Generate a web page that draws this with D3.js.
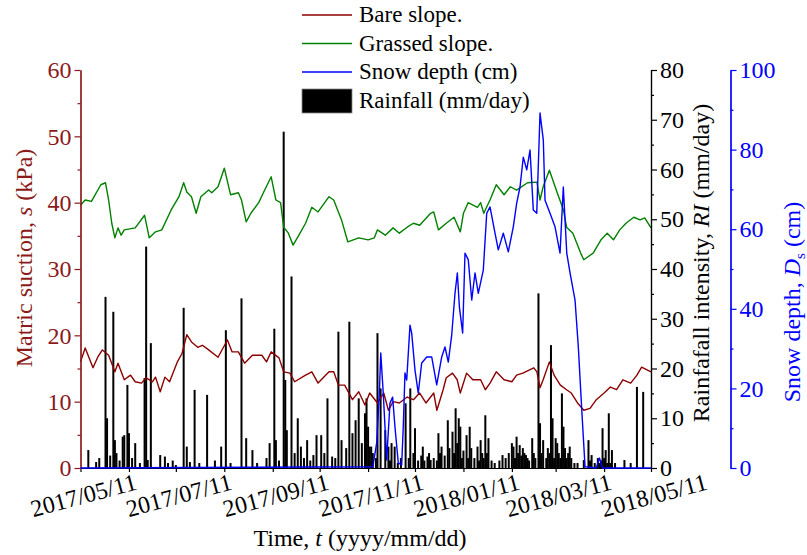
<!DOCTYPE html>
<html>
<head>
<meta charset="utf-8">
<script src="https://cdn.jsdelivr.net/npm/d3@7"></script>
<style>
  body { margin: 0; background: #fff; }
  svg { display: block; }
  text { font-family: "Liberation Serif", "Times New Roman", serif; }
</style>
</head>
<body>
<svg id="chart" width="807" height="555"></svg>
<script>
// Monitoring record, days counted from the start date
const startDate = "2017-05-11";

// Matric suction of the bare slope (kPa)
const bareDay = [0,3,8,11,14,18,22,24,28,32,35,39,42,46,48,51,54,57,62,65,68,71,75,78,82,88,94,97,101,105,110,116,119,122,127,130,134,137,144,148,152,159,162,165,169,174,178,182,185,190,194,197,200,204,209,213,217,221,226,228,232,234,238,241,243,247,251,256,259,262,266,271,276,279,283,290,292,294,296,300,303,307,311,314,318,322,326,330,335,339,343,347,352,356,359,365];
const bareSuction = [16.0,18.1,15.1,16.7,17.8,17.0,14.5,15.8,13.3,14.0,13.0,12.8,13.6,13.0,13.7,11.5,13.7,13.0,16.0,17.3,20.1,19.0,18.2,18.5,17.8,16.7,19.3,17.5,17.5,15.8,17.0,17.0,16.0,17.5,16.6,14.5,14.3,13.0,14.0,14.5,12.8,14.5,14.5,12.5,12.5,10.3,11.5,9.5,11.3,9.8,11.3,8.7,10.0,9.8,10.7,10.3,11.3,9.8,11.3,8.7,11.8,13.6,14.3,13.3,11.3,14.3,13.3,13.3,11.8,12.8,14.5,13.3,13.0,14.0,14.3,15.1,14.5,12.1,13.3,16.0,14.0,12.5,11.8,11.3,9.8,8.7,9.0,10.3,11.3,12.2,11.8,13.3,12.8,14.0,15.2,14.5];

// Matric suction of the grassed slope (kPa)
const grassDay = [0,3,7,13,16,18,20,22,24,26,28,35,41,44,48,52,58,63,66,68,71,74,77,82,84,88,92,96,101,103,106,109,114,117,122,125,128,130,133,136,139,144,148,152,159,162,167,171,178,184,188,190,195,200,204,209,213,217,224,226,229,234,239,243,245,248,254,256,258,262,266,271,275,279,286,292,294,296,300,305,309,311,315,320,322,328,333,337,341,345,349,354,358,361,365];
const grassSuction = [39.6,40.4,40.2,42.7,43.0,40.4,36.9,34.7,36.2,35.1,35.9,36.2,38.1,34.7,35.6,35.9,38.9,40.9,43.0,41.6,40.9,38.4,40.9,41.9,41.5,42.4,45.2,41.2,41.5,40.4,37.1,38.4,40.0,41.5,43.9,40.4,40.0,36.3,35.4,33.6,34.8,36.9,39.3,38.6,40.9,40.4,37.4,34.1,34.7,34.4,34.7,35.9,35.1,36.2,35.4,36.3,36.9,36.6,38.4,38.6,35.9,36.9,37.8,35.6,38.4,40.0,39.3,40.0,38.4,40.4,42.7,41.2,42.4,41.9,43.0,43.1,40.4,42.4,44.9,41.5,38.9,36.3,35.4,32.4,31.4,32.4,34.4,35.4,34.4,35.9,36.9,37.8,37.4,37.7,36.2];

// Snow depth (cm)
const snowDay = [0,187,189.5,191.2,192.1,193.7,195.9,198,199.7,201.2,203.3,205.5,206.5,207.6,208.7,210.8,211.9,214,216.1,218.3,221.5,224.7,227.9,231.1,233.2,235.3,237.5,239.6,241.1,242.4,244.5,246,248.1,250.3,252.4,254.5,257.7,259.9,262,265.2,267.3,270.5,273.7,276.9,279.1,281.2,283.3,285.5,287.6,289.7,291.9,294,296.1,297.2,300.4,303.6,306.8,308.9,311.1,313.2,316.4,318.5,320.7,322.8,330,332,334,365];
const snowDepth = [0,0.3,6.3,18.8,28.9,18.8,2,16.3,17.8,10.3,1.3,0.8,10.3,23.9,22.1,35.9,33.9,24.6,18.8,26.4,27.9,27.9,20.9,27.9,30.4,26.6,33.4,43.9,49,40.5,33.9,54,52.3,42.2,49,43.9,49.7,64,65.6,59,54.8,59,54.3,60.6,66.6,70.6,78.1,74.9,79.9,64.8,64,89.2,82.4,67.3,64,60.6,54,70.6,54,49,42.2,30.4,14.6,0.3,0,2.5,0,0];

// Daily rainfall (mm/day)
const rainDay = [5,10,12,16,17,19,21,22,23,25,27,28,30,31,33,35,38,41,42,43,45,51,54,56,59,61,66,68,70,73,76,81,86,90,93,96,103,106,110,113,119,121,124,125,127,130,131,132,135,137,139,141,143,145,147,149,151,154,156,158,161,163,165,167,170,172,174,176,178,180,182,183,184,185,186,187,189,190,192,195,197,198,199,201,203,205,208,210,211,213,214,216,218,219,220,222,223,224,226,228,229,230,231,233,235,236,238,239,240,241,242,243,244,245,247,248,249,250,252,254,255,256,257,258,259,260,261,263,265,268,270,272,274,276,277,278,279,280,281,282,283,284,285,286,287,289,290,291,293,294,295,296,298,299,300,301,302,303,304,305,306,307,308,309,310,311,312,313,314,316,318,322,325,326,327,329,331,332,333,334,335,336,337,338,339,340,342,348,352,356,360];
const rainfall = [3.6,1.2,2.0,34.4,10,2.5,31.4,5.6,3,1.5,6.3,6.6,16.7,7,2,5,1,18.1,44.5,1.6,25.1,2.6,2.3,1,1.5,0.6,32.2,4.3,1.2,15.7,1,14.7,1.5,4.3,27.7,1,34.1,6,3.6,1,2,5,28,5.6,1.5,67.6,17.7,7.6,38.5,3,10,4.3,2,5.6,1.5,2.6,6.6,6.6,3,14,2.3,2,27.4,5.6,4,29.4,7,9.6,14,5,11,14,8.3,4.3,4.3,3,2,27.1,16,7.6,4.3,1.5,5,4.3,1,2,13,2,16,3,8,1.5,2.5,4.3,1.5,2.3,3,1.6,2,1.5,7,3,4.3,2.5,9.6,4,7.3,3,12,5,10,8.3,2,3.5,6.6,2,8.3,4,2,4.3,1.5,5.6,3,2,10.6,3,6,1.5,1,1.5,2.6,2,3,5,4.3,2,6.3,3,4.6,2.5,4,3,2.6,2,1.5,6,3,2,35.1,9,3,5.6,2,4,3,24.7,10,2,6,5,3,2,15,8.3,4,2,3,4.3,2,1,1,1.6,5.6,1.5,2.6,1,2,1,1.5,8,2,3.6,1,11,1,3.6,1,1.6,1,16.3,15.3];

const dateLabelFormat = "%Y/%m/%d";
const leftTicks = [0, 10, 20, 30, 40, 50, 60];
const rainTicks = [0, 10, 20, 30, 40, 50, 60, 70, 80];
const snowTicks = [0, 20, 40, 60, 80, 100];

const legendLabels = ["Bare slope.", "Grassed slope.", "Snow depth (cm)", "Rainfall (mm/day)"];

// ---- layout ----
const svg = d3.select("#chart");
const plotL = 80.5, plotR = 651, plotT = 70, plotB = 468;
const snowAxisX = 730.5;
const suctionColor = "#8b1a1a";
const bareColor = "#8b0000";
const grassColor = "#008000";
const snowColor = "#0000ff";

const t0 = d3.timeParse("%Y-%m-%d")(startDate);
const dayToDate = d => new Date(t0.getTime() + d * 864e5);

const x = d3.scaleTime().domain([t0, d3.timeYear.offset(t0, 1)]).range([plotL, plotR]);
const yS = d3.scaleLinear().domain([0, 60]).range([plotB, plotT]);
const yR = d3.scaleLinear().domain([0, 80]).range([plotB, plotT]);
const yD = d3.scaleLinear().domain([0, 100]).range([plotB, plotT]);

const fontSize = 24;

// ---- rainfall bars ----
const barW = 2;
svg.append("g").selectAll("rect")
  .data(rainDay.map((d, i) => ({ d, v: rainfall[i] })))
  .join("rect")
  .attr("x", p => x(dayToDate(p.d)) - barW / 2)
  .attr("y", p => yR(p.v))
  .attr("width", barW)
  .attr("height", p => yR(0) - yR(p.v))
  .attr("fill", "#000");

// ---- lines ----
function drawLine(days, vals, yScale, color) {
  const line = d3.line()
    .x((d, i) => x(dayToDate(days[i])))
    .y((d, i) => yScale(vals[i]));
  svg.append("path")
    .attr("d", line(days))
    .attr("fill", "none")
    .attr("stroke", color)
    .attr("stroke-width", 1.4)
    .attr("stroke-linejoin", "round");
}
drawLine(bareDay, bareSuction, yS, bareColor);
drawLine(grassDay, grassSuction, yS, grassColor);

// ---- axes ----
function styleAxis(g, color) {
  g.selectAll("path, line").attr("stroke", color).attr("stroke-width", 1.2);
  g.selectAll("text").attr("fill", color).attr("font-size", fontSize)
    .attr("font-family", "Liberation Serif, Times New Roman, serif");
}

// bottom time axis: monthly ticks, labels every second month
const monthTicks = d3.range(13).map(i => d3.timeMonth.offset(t0, i));
const gx = svg.append("g").attr("transform", `translate(0,${plotB})`)
  .call(d3.axisBottom(x).tickValues(monthTicks).tickSize(4).tickSizeOuter(0).tickFormat(""));
styleAxis(gx, "#000");
const fmt = d3.timeFormat(dateLabelFormat);
svg.append("g").selectAll("text")
  .data(monthTicks.filter((d, i) => i % 2 === 0))
  .join("text")
  .attr("transform", d => `translate(${x(d) + 3},${plotB + 27}) rotate(-15)`)
  .attr("text-anchor", "middle")
  .attr("dy", "0.35em")
  .attr("font-size", fontSize)
  .attr("fill", "#000")
  .text(d => fmt(d));

// left suction axis
const gl = svg.append("g").attr("transform", `translate(${plotL},0)`);
gl.call(d3.axisLeft(yS).tickValues(d3.range(5, 60, 10)).tickSize(3).tickSizeOuter(0).tickFormat(""));
gl.append("g").call(d3.axisLeft(yS).tickValues(leftTicks).tickSize(6).tickSizeOuter(0).tickPadding(3));
styleAxis(gl, suctionColor);

// right rainfall axis
const gr = svg.append("g").attr("transform", `translate(${plotR},0)`);
gr.call(d3.axisRight(yR).tickValues(d3.range(5, 80, 10)).tickSize(3).tickSizeOuter(0).tickFormat(""));
gr.append("g").call(d3.axisRight(yR).tickValues(rainTicks).tickSize(6).tickSizeOuter(0).tickPadding(3));
styleAxis(gr, "#000");

// snow depth axis
const gs = svg.append("g").attr("transform", `translate(${snowAxisX},0)`);
gs.call(d3.axisRight(yD).tickValues(d3.range(10, 100, 20)).tickSize(3).tickSizeOuter(0).tickFormat(""));
gs.append("g").call(d3.axisRight(yD).tickValues(snowTicks).tickSize(6).tickSizeOuter(0).tickPadding(3));
styleAxis(gs, snowColor);

// snow line drawn last, over the baseline
drawLine(snowDay, snowDepth, yD, snowColor);

// ---- axis titles ----
const t1 = svg.append("text")
  .attr("transform", `translate(32,258) rotate(-90)`)
  .attr("text-anchor", "middle").attr("font-size", fontSize).attr("fill", suctionColor);
t1.append("tspan").text("Matric suction, ");
t1.append("tspan").attr("font-style", "italic").text("s");
t1.append("tspan").text(" (kPa)");

const t2 = svg.append("text")
  .attr("transform", `translate(709,263) rotate(-90)`)
  .attr("text-anchor", "middle").attr("font-size", fontSize).attr("fill", "#000");
t2.append("tspan").text("Rainfafall intensity, ");
t2.append("tspan").attr("font-style", "italic").text("RI");
t2.append("tspan").text(" (mm/day)");

const t3 = svg.append("text")
  .attr("transform", `translate(800,302) rotate(-90)`)
  .attr("text-anchor", "middle").attr("font-size", fontSize).attr("fill", snowColor);
t3.append("tspan").text("Snow depth, ");
t3.append("tspan").attr("font-style", "italic").text("D");
t3.append("tspan").attr("font-size", 15).attr("dy", 5).text("s");
t3.append("tspan").attr("dy", -5).text(" (cm)");

svg.append("text")
  .attr("x", 360).attr("y", 546)
  .attr("text-anchor", "middle").attr("font-size", fontSize).attr("fill", "#000")
  .call(t => {
    t.append("tspan").text("Time, ");
    t.append("tspan").attr("font-style", "italic").text("t");
    t.append("tspan").text(" (yyyy/mm/dd)");
  });

// ---- legend ----
const legendColors = [bareColor, grassColor, snowColor];
const legY = [15, 43.5, 72, 100.5];
const leg = svg.append("g");
legendColors.forEach((c, i) => {
  leg.append("line").attr("x1", 302).attr("x2", 352).attr("y1", legY[i]).attr("y2", legY[i])
    .attr("stroke", c).attr("stroke-width", 1.4);
});
leg.append("rect").attr("x", 302).attr("y", 89).attr("width", 50).attr("height", 24)
  .attr("fill", "#000").attr("stroke", "#888").attr("stroke-width", 0.8);
legendLabels.forEach((s, i) => {
  leg.append("text").attr("x", 359).attr("y", legY[i]).attr("dy", "0.32em")
    .attr("font-size", 23).attr("fill", "#000").text(s);
});
</script>
</body>
</html>
